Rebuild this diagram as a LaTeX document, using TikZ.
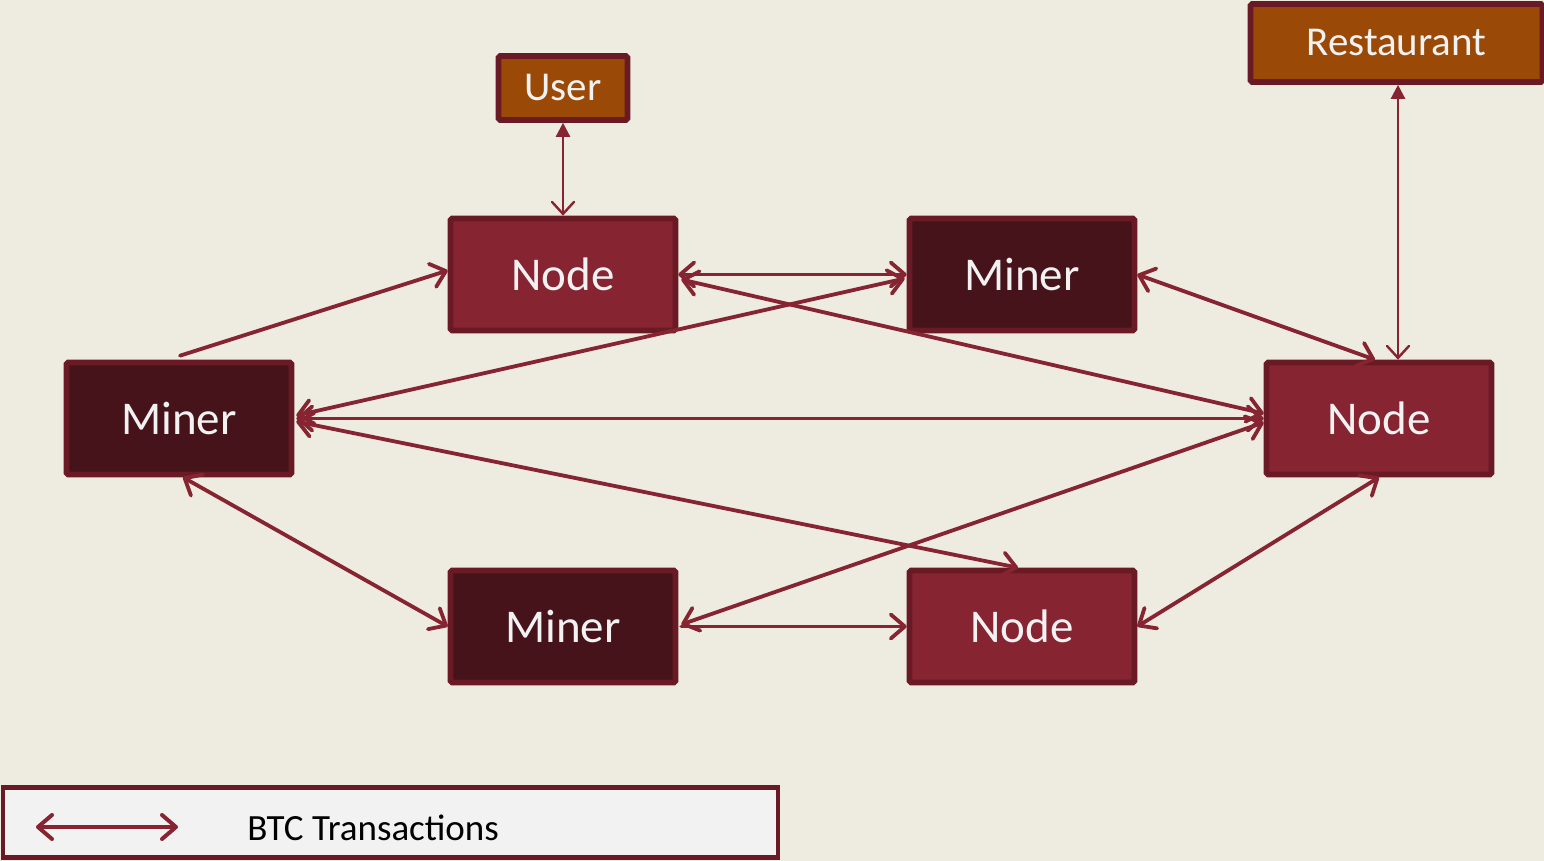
\documentclass[tikz,border=0pt]{standalone}
\usepackage{fontspec}
\setmainfont{Carlito}
\usetikzlibrary{arrows.meta,calc}
\definecolor{bg}{RGB}{238,235,224}
\definecolor{nodefill}{RGB}{134,36,50}
\definecolor{minerfill}{RGB}{70,19,27}
\definecolor{edge}{RGB}{106,26,37}
\definecolor{orangefill}{RGB}{154,74,6}
\definecolor{linec}{RGB}{134,36,50}
\definecolor{txt}{RGB}{242,242,242}
\definecolor{legfill}{RGB}{242,242,242}
\tikzset{
  box/.style={draw=edge,line width=2.8pt,text=txt,minimum width=112.5pt,minimum height=56pt,inner sep=0pt,rounded corners=0.8pt,font=\fontsize{23.5pt}{28pt}\selectfont},
  nodebox/.style={box,fill=nodefill},
  minerbox/.style={box,fill=minerfill},
  agentbox/.style={draw=edge,line width=2.8pt,fill=orangefill,text=txt,inner sep=0pt,rounded corners=0.8pt,font=\fontsize{20.5pt}{24pt}\selectfont},
  barb/.tip={Straight Barb[length=7pt,width=12pt,line cap=round,line join=round]},
  tx/.style={draw=linec,line width=1.9pt,barb-barb,line cap=round},
  txone/.style={draw=linec,line width=1.9pt,-barb,line cap=round},
  link/.style={draw=linec,line width=1.2pt,{Triangle[length=7pt,width=7pt]}-{Straight Barb[length=6pt,width=11pt,line cap=round]}},
}
\begin{document}
\begin{tikzpicture}[x=0.5pt,y=-0.5pt]
\fill[bg] (0,0) rectangle (1544,861);
\useasboundingbox (0,0) rectangle (1544,861);
% nodes
\node[agentbox,minimum width=64.5pt,minimum height=32pt] (user) at (563,88) {User};
\node[agentbox,minimum width=146pt,minimum height=39pt] (rest) at (1396.5,43) {Restaurant};
\node[nodebox] (n1) at (563,274.5) {Node};
\node[minerbox] (m1) at (1022,274.5) {Miner};
\node[minerbox] (mL) at (179,418.5) {Miner};
\node[nodebox] (nR) at (1379,418.5) {Node};
\node[minerbox] (mB) at (563,626.5) {Miner};
\node[nodebox] (nB) at (1022,626.5) {Node};
% connectors
\draw[link] (user.south) -- (n1.north);
\draw[link] ($(rest.south)+(1.5,0)$) -- ($(nR.north)+(19,0)$);
\draw[txone] ($(mL.north)+(1,-4)$) -- ($(n1.west)+(0,-4)$);
\draw[tx] (n1.east) -- (m1.west);
\draw[tx] ($(n1.east)+(3,5)$) -- ($(nR.west)+(0,-5)$);
\draw[tx] ($(m1.west)+(-2,4)$) -- ($(mL.east)+(2,-3)$);
\draw[tx] (m1.east) -- ($(nR.north)+(-4,0)$);
\draw[tx] ($(mL.east)+(2,0)$) -- (nR.west);
\draw[tx] ($(mL.east)+(2,3)$) -- ($(nB.north)+(-4,0)$);
\draw[tx] ($(mL.south)+(4,0)$) -- (mB.west);
\draw[tx] ($(nR.west)+(0,4)$) -- ($(mB.east)+(3,-2)$);
\draw[txone] ($(mB.east)+(3,0)$) -- (nB.west);
\draw[tx] (nR.south) -- (nB.east);
% legend
\node[draw=edge,line width=2.2pt,fill=legfill,minimum width=387.5pt,minimum height=35pt,inner sep=0pt] (leg) at (390.5,822.5) {};
\coordinate (la) at (36,827);
\coordinate (lb) at (178,827);
\draw[tx,line width=2pt] (la) -- (lb);
\node[text=black,font=\fontsize{18.5pt}{22pt}\selectfont,anchor=west,inner sep=0pt] (legtext) at (247,828) {BTC Transactions};
\end{tikzpicture}
\end{document}
